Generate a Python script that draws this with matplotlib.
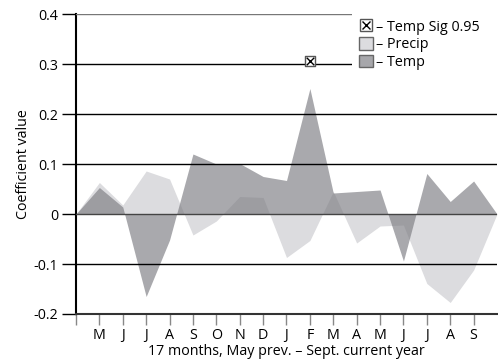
import numpy as np
import matplotlib
matplotlib.use("Agg")
import matplotlib.pyplot as plt
from matplotlib.lines import Line2D
from matplotlib.patches import Patch
from matplotlib.legend_handler import HandlerTuple

plt.rcParams['font.family'] = ['Open Sans', 'DejaVu Sans']

# 17 months, May of previous year to September of current year
months = ['M', 'J', 'J', 'A', 'S', 'O', 'N', 'D', 'J', 'F', 'M', 'A', 'M', 'J', 'J', 'A', 'S']
precip = [0.063, 0.018, 0.086, 0.070, -0.042, -0.014, 0.035, 0.033, -0.087,
          -0.053, 0.045, -0.058, -0.024, -0.022, -0.139, -0.177, -0.112]
temp = [0.053, 0.014, -0.165, -0.052, 0.120, 0.100, 0.101, 0.075, 0.067,
        0.251, 0.042, 0.045, 0.048, -0.094, 0.081, 0.025, 0.066]
sig_month = [10]          # F, temp significant at 0.95
sig_value = [0.306]
yticks = [-0.2, -0.1, 0, 0.1, 0.2, 0.3, 0.4]
ytick_labels = ['-0.2', '-0.1', '0', '0.1', '0.2', '0.3', '0.4']

FS = 10.3

fig = plt.figure(figsize=(4.98, 3.62), dpi=100)
ax = fig.add_axes([0.1526, 0.1326, 0.9980 - 0.1526, 0.9613 - 0.1326])

# series start and end on the baseline
x = np.arange(len(months) + 2)
p = np.r_[0, precip, 0]
t = np.r_[0, temp, 0]

c_precip = '#dcdcdf'
c_temp = '#7b7b81'
ax.fill_between(x, 0, p, color=c_precip, lw=0, zorder=1)
ax.fill_between(x, 0, t, color=c_temp, alpha=0.65, lw=0, zorder=2)

# horizontal guide lines
for yv in yticks[1:-1]:
    col = '#444444' if yv == 0 else 'black'
    ax.axhline(yv, color=col, lw=1.0, zorder=3)
ax.axhline(0.4, color='#777777', lw=1.0, zorder=3)

# significance marker: box with a cross
ax.scatter(sig_month, sig_value, marker='s', s=55, facecolor='white',
           edgecolor='#555555', lw=1.0, zorder=5)
ax.scatter(sig_month, sig_value, marker='x', s=30, color='black', lw=1.0, zorder=6)

ax.set_xlim(0, 18)
ax.set_ylim(-0.2, 0.4)
ax.set_yticks(yticks)
ax.set_yticklabels(ytick_labels)
ax.set_xticks(np.arange(0, 18))
ax.set_xticklabels([''] + months)

for s in ['top', 'right']:
    ax.spines[s].set_visible(False)
ax.spines['left'].set_linewidth(1.5)
ax.spines['bottom'].set_linewidth(1.5)
ax.spines['bottom'].set_color('#333333')

ax.tick_params(axis='y', length=10, width=1.0, color='black', labelsize=FS, pad=3)
ax.tick_params(axis='x', length=8, width=1.0, color='#888888', labelsize=FS, pad=2)

ax.set_xlabel('17 months, May prev. \u2013 Sept. current year', fontsize=FS, labelpad=1)
ax.set_ylabel('Coefficient value', fontsize=FS, labelpad=2)

sig_handle = (Line2D([], [], marker='s', ls='none', markersize=9, markerfacecolor='white',
                     markeredgecolor='#555555'),
              Line2D([], [], marker='x', ls='none', markersize=6, color='black'))
handles = [sig_handle,
           Patch(facecolor=c_precip, edgecolor='#666666', lw=1.0),
           Patch(facecolor='#a7a7ab', edgecolor='#666666', lw=1.0)]
labels = ['\u2013 Temp Sig 0.95', '\u2013 Precip', '\u2013 Temp']
leg = ax.legend(handles, labels, loc='upper left', bbox_to_anchor=(0.656, 0.5, 0.35, 0.505),
                mode='expand', handler_map={tuple: HandlerTuple(ndivide=1)},
                frameon=True, fancybox=False, framealpha=1, facecolor='white',
                edgecolor='none', fontsize=FS, handlelength=0.95, handleheight=0.95,
                handletextpad=0.25, labelspacing=0.18, borderpad=0.5, borderaxespad=0)
leg.set_zorder(10)

fig.savefig('out.png', dpi=100)
